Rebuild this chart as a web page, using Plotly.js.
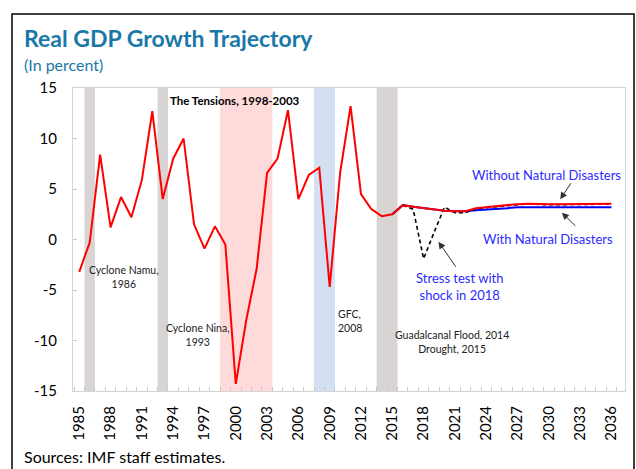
<!DOCTYPE html>
<html>
<head>
<meta charset="utf-8">
<script src="https://cdn.plot.ly/plotly-3.0.1.min.js"></script>
<style>html,body{margin:0;padding:0;background:#fff;}#chart{width:636px;height:469px;}</style>
</head>
<body>
<div id="chart"></div>
<script>
// ---- Data ----
const histYears = [1985,1986,1987,1988,1989,1990,1991,1992,1993,1994,1995,1996,1997,1998,1999,2000,2001,2002,2003,2004,2005,2006,2007,2008,2009,2010,2011,2012,2013,2014,2015];
const histGrowth = [-3.2,-0.3,8.4,1.2,4.2,2.2,5.9,12.7,4.0,8.0,10.0,1.5,-0.9,1.3,-0.5,-14.3,-8.0,-2.9,6.6,8.0,12.8,4.0,6.4,7.1,-4.7,6.6,13.2,4.5,3.0,2.3,2.5];
const projYears = [2015,2016,2017,2018,2019,2020,2021,2022,2023,2024,2025,2026,2027,2028,2029,2030,2031,2032,2033,2034,2035,2036];
const withoutND = [2.5,3.4,3.25,3.1,2.95,2.85,2.8,2.8,3.1,3.2,3.3,3.45,3.5,3.55,3.5,3.5,3.5,3.5,3.5,3.5,3.5,3.55];
const withND    = [2.5,3.4,3.25,3.1,2.95,2.85,2.8,2.8,2.9,2.95,3.0,3.1,3.2,3.2,3.2,3.2,3.2,3.2,3.2,3.2,3.2,3.2];
const stressTest= [2.5,3.4,3.0,-1.9,0.7,3.2,2.65,2.65,3.05,3.15,3.25,3.4,3.45,3.5,3.45,3.45,3.45,3.45,3.45,3.45,3.45,3.5];
const xTickVals = [1985,1988,1991,1994,1997,2000,2003,2006,2009,2012,2015,2018,2021,2024,2027,2030,2033,2036];
const xTickText = ["1985","1988","1991","1994","1997","2000","2003","2006","2009","2012","2015","2018","2021","2024","2027","2030","2033","2036"];
const yTickVals = [15,10,5,0,-5,-10,-15];
const yTickText = ["15","10","5","0","-5","-10","-15"];
// shaded episodes
const bandStart = [1985.5,1992.5,1998.5,2007.5,2013.5];
const bandEnd   = [1986.5,1993.5,2003.5,2009.5,2015.5];
const bandColor = ["#d9d4d4","#d9d4d4","#ffdada","#d3e0f1","#d9d4d4"];

const FONT = "Lato, 'Open Sans', sans-serif";
const redYears = histYears.concat(projYears.slice(1));
const redVals = histGrowth.concat(withoutND.slice(1));

const traces = [
  {x: projYears, y: withND, mode:'lines', line:{color:'#0000ff', width:2}, hoverinfo:'skip'},
  {x: projYears, y: stressTest, mode:'lines', line:{color:'#000000', width:1.6, dash:'4px,3px'}, hoverinfo:'skip'},
  {x: redYears, y: redVals, mode:'lines', line:{color:'#ff0000', width:2}, hoverinfo:'skip'}
];

const shapes = bandStart.map((s,i)=>({type:'rect', xref:'x', yref:'paper', x0:s, x1:bandEnd[i], y0:0, y1:1, fillcolor:bandColor[i], line:{width:0}, layer:'below'}));
// outer frame
shapes.push({type:'rect', xref:'paper', yref:'paper', x0:-0.1105, x1:1.0163, y0:-0.27, y1:1.2442, line:{color:'#000', width:1.5}, fillcolor:'rgba(0,0,0,0)'});

const blk = {family:FONT, size:10.5, color:'#222'};
const blu = {family:FONT, size:13, color:'#2b2bff'};
const annotations = [
  {xref:'paper', yref:'paper', x:-0.0924, y:1.165, xanchor:'left', yanchor:'middle', text:'<b>Real GDP Growth Trajectory</b>', showarrow:false, font:{family:FONT, size:23, color:'#1a78a8'}},
  {xref:'paper', yref:'paper', x:-0.0924, y:1.076, xanchor:'left', yanchor:'middle', text:'(In percent)', showarrow:false, font:{family:FONT, size:16, color:'#1a78a8'}},
  {xref:'paper', yref:'paper', x:-0.0924, y:-0.254, xanchor:'left', yanchor:'bottom', text:'Sources: IMF staff estimates.', showarrow:false, font:{family:FONT, size:16, color:'#000'}},
  {x:1993.54, y:13.81, xanchor:'left', yanchor:'middle', text:'<b>The Tensions, 1998-2003</b>', showarrow:false, font:{family:FONT, size:11.5, color:'#000'}},
  {x:1989.26, y:-3.68, xanchor:'center', yanchor:'middle', text:'Cyclone Namu,<br>1986', showarrow:false, font:blk},
  {x:1996.34, y:-9.46, xanchor:'center', yanchor:'middle', text:'Cyclone Nina,<br>1993', showarrow:false, font:blk},
  {x:2009.62, y:-8.02, xanchor:'left', yanchor:'middle', align:'left', text:'GFC,<br>2008', showarrow:false, font:blk},
  {x:2020.74, y:-10.15, xanchor:'center', yanchor:'middle', text:'Guadalcanal Flood, 2014<br>Drought, 2015', showarrow:false, font:blk},
  {x:2029.82, y:6.39, xanchor:'center', yanchor:'middle', text:'Without Natural Disasters', showarrow:false, font:blu},
  {x:2029.94, y:0.02, xanchor:'center', yanchor:'middle', text:'With Natural Disasters', showarrow:false, font:blu},
  {x:2021.4, y:-4.7, xanchor:'center', yanchor:'middle', text:'Stress test with<br>shock in 2018', showarrow:false, font:blu},
  {x:2031.09, y:3.98, ax:2032.21, ay:5.72, axref:'x', ayref:'y', text:'', showarrow:true, arrowhead:2, arrowsize:1.4, arrowwidth:1, arrowcolor:'#333'},
  {x:2031.25, y:2.65, ax:2032.69, ay:1.21, axref:'x', ayref:'y', text:'', showarrow:true, arrowhead:2, arrowsize:1.4, arrowwidth:1, arrowcolor:'#333'},
  {x:2019.42, y:-0.22, ax:2021.19, ay:-2.85, axref:'x', ayref:'y', text:'', showarrow:true, arrowhead:2, arrowsize:1.4, arrowwidth:1, arrowcolor:'#333'}
];

const layout = {
  width:636, height:469,
  margin:{l:73, r:11, t:88, b:78},
  paper_bgcolor:'#fff', plot_bgcolor:'#fff',
  showlegend:false,
  font:{family:FONT, color:'#000'},
  xaxis:{range:[1984.4,2037.3], tickmode:'array', tickvals:xTickVals, ticktext:xTickText, tickangle:-90,
    ticks:'', showline:true, linecolor:'#d4d4d4', linewidth:1, mirror:true, showgrid:false, zeroline:false,
    tickfont:{family:FONT, size:15, color:'#000'}, ticklabelstandoff:8,
    minor:{tickmode:'linear', tick0:1984.5, dtick:1, ticks:'inside', ticklen:4, tickcolor:'#c8c8c8', showgrid:false}},
  yaxis:{range:[-15,15], tickmode:'array', tickvals:yTickVals, ticktext:yTickText, ticks:'inside', ticklen:4, tickcolor:'#c8c8c8',
    showline:true, linecolor:'#d4d4d4', linewidth:1, mirror:true, showgrid:false, zeroline:false,
    tickfont:{family:FONT, size:15, color:'#000'}, ticklabelstandoff:12},
  shapes:shapes,
  annotations:annotations
};

Plotly.newPlot('chart', traces, layout, {displayModeBar:false, staticPlot:true});
</script>
</body>
</html>
